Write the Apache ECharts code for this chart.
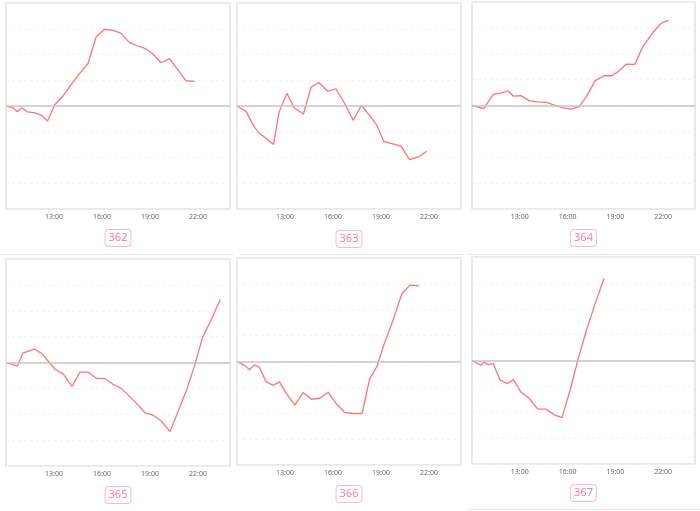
<!DOCTYPE html>
<html>
<head>
<meta charset="utf-8">
<script src="https://cdn.jsdelivr.net/npm/echarts@6/dist/echarts.min.js"></script>
<style>
html,body{margin:0;padding:0;background:#fff;}
#c{width:700px;height:511px;}
</style>
</head>
<body>
<div id="c"></div>
<script>
// ---- data ----
const panelLabels = ['362','363','364','365','366','367'];
const xTickLabels = ['13:00','16:00','19:00','22:00'];

const t362 = ['10:00','10:27','10:42','11:01','11:20','11:46','12:13','12:36','13:03','13:34','14:05','14:36','15:07','15:38','16:10','16:41','17:12','17:43','18:12','18:41','19:10','19:41','20:13','20:44','21:15','21:47'];
const v362 = [0,-0.08,-0.21,-0.08,-0.23,-0.26,-0.36,-0.58,0.05,0.39,0.84,1.26,1.64,2.68,2.98,2.94,2.82,2.46,2.34,2.24,2.03,1.68,1.84,1.41,0.98,0.96];

const t363 = ['10:00','10:34','11:05','11:23','12:17','12:38','13:07','13:35','14:09','14:38','15:07','15:40','16:11','16:44','17:16','17:47','18:18','18:43','19:10','19:45','20:16','20:47','21:20','21:52'];
const v363 = [0,-0.21,-0.82,-1.05,-1.49,-0.23,0.49,-0.08,-0.31,0.74,0.91,0.57,0.67,0.09,-0.56,0.03,-0.38,-0.72,-1.37,-1.47,-1.57,-2.08,-1.98,-1.76];

const t364 = ['10:00','10:44','11:20','11:49','12:16','12:36','13:04','13:35','14:06','14:41','15:11','15:46','16:13','16:44','17:13','17:44','18:17','18:46','19:11','19:42','20:13','20:44','21:22','21:53','22:20'];
const v364 = [0,-0.12,0.43,0.48,0.57,0.36,0.38,0.19,0.14,0.12,0.01,-0.09,-0.14,-0.04,0.38,0.96,1.15,1.15,1.31,1.6,1.59,2.28,2.83,3.18,3.3];

const t365 = ['10:00','10:43','11:03','11:46','12:14','13:04','13:35','14:08','14:37','15:08','15:39','16:10','16:41','17:12','17:44','18:12','18:42','19:11','19:42','20:15','20:47','21:18','21:47','22:17','22:51','23:23'];
const v365 = [0,-0.14,0.36,0.52,0.35,-0.26,-0.45,-0.93,-0.37,-0.37,-0.61,-0.62,-0.84,-1.0,-1.32,-1.61,-1.95,-2.03,-2.26,-2.67,-1.85,-1.03,-0.13,0.97,1.68,2.43];

const t366 = ['10:00','10:30','10:47','11:05','11:24','11:49','12:16','12:39','13:06','13:37','14:08','14:39','15:11','15:42','16:13','16:44','17:15','17:49','18:17','18:45','19:11','19:45','20:18','20:49','21:22'];
const v366 = [0,-0.16,-0.32,-0.13,-0.23,-0.78,-0.92,-0.79,-1.25,-1.69,-1.2,-1.46,-1.42,-1.19,-1.64,-1.97,-2.01,-2.01,-0.69,-0.19,0.65,1.59,2.61,2.95,2.92];

const t367 = ['10:00','10:34','10:44','11:01','11:20','11:46','12:13','12:36','13:05','13:34','14:08','14:39','15:10','15:39','16:10','16:41','17:12','17:43','18:17'];
const v367 = [0,-0.19,-0.05,-0.16,-0.12,-0.76,-0.89,-0.74,-1.23,-1.45,-1.88,-1.88,-2.1,-2.21,-1.13,0.1,1.2,2.17,3.17];

const times = [t362,t363,t364,t365,t366,t367];
const values = [v362,v363,v364,v365,v366,v367];

// ---- layout ----
const boxes = [[6,3,224,206],[237,3,224,206],[472,2,223,207],[6,259,224,207],[237,258,224,207],[472,257,223,207]];
const labelY = [238,239,238,495,494,493];

function toHour(s){const p=s.split(':');return +p[0]+(+p[1])/60;}
const tickHours = xTickLabels.map(toHour);

const LINE = '#ff7373';
const grid=[],xAxis=[],yAxis=[],series=[],graphic=[];
boxes.forEach((b,i)=>{
  grid.push({left:b[0],top:b[1],width:b[2],height:b[3],show:true,borderColor:'#e2e2e2',borderWidth:1.5,backgroundColor:'transparent'});
  xAxis.push({type:'value',gridIndex:i,min:10,max:24,
    axisLine:{show:false},axisTick:{show:false},splitLine:{show:false},
    axisLabel:{customValues:tickHours,formatter:v=>{const h=Math.floor(v);return h+':00';},
      fontSize:7,color:'#666',margin:4,fontFamily:'Noto Sans'}});
  yAxis.push({type:'value',gridIndex:i,min:-4,max:4,interval:1,
    axisLine:{show:false},axisTick:{show:false},axisLabel:{show:false},
    splitLine:{show:true,lineStyle:{color:'#f2f2f2',type:[3,3],width:1}}});
  series.push({type:'line',xAxisIndex:i,yAxisIndex:i,
    data:times[i].map((t,k)=>[toHour(t),values[i][k]]),
    showSymbol:false,symbol:'none',smooth:false,
    lineStyle:{color:LINE,width:1.3},
    markLine:{silent:true,symbol:'none',label:{show:false},animation:false,
      lineStyle:{color:'#c6c6c6',type:'solid',width:1.5},data:[{yAxis:0}]},
    animation:false,z:3});
  graphic.push({type:'text',x:b[0]+b[2]/2,y:labelY[i],
    style:{text:panelLabels[i],fill:'#f47f9f',fontSize:11,fontFamily:'Noto Sans',
      align:'center',verticalAlign:'middle',
      backgroundColor:'#fff',borderColor:'#ffb8cb',borderWidth:1,borderRadius:3,padding:[3,3,2,3]}});
});
// card separators
graphic.push({type:'line',shape:{x1:0,y1:254.5,x2:233,y2:254.5},style:{stroke:'#e6e6e6',lineWidth:1}});
graphic.push({type:'line',shape:{x1:240,y1:254.5,x2:463,y2:254.5},style:{stroke:'#e6e6e6',lineWidth:1}});
graphic.push({type:'line',shape:{x1:467,y1:254.5,x2:700,y2:254.5},style:{stroke:'#e6e6e6',lineWidth:1}});
graphic.push({type:'line',shape:{x1:467,y1:509.5,x2:700,y2:509.5},style:{stroke:'#e6e6e6',lineWidth:1}});

const chart = echarts.init(document.getElementById('c'),null,{renderer:'canvas'});
chart.setOption({animation:false,backgroundColor:'#fff',grid,xAxis,yAxis,series,graphic});
</script>
</body>
</html>
